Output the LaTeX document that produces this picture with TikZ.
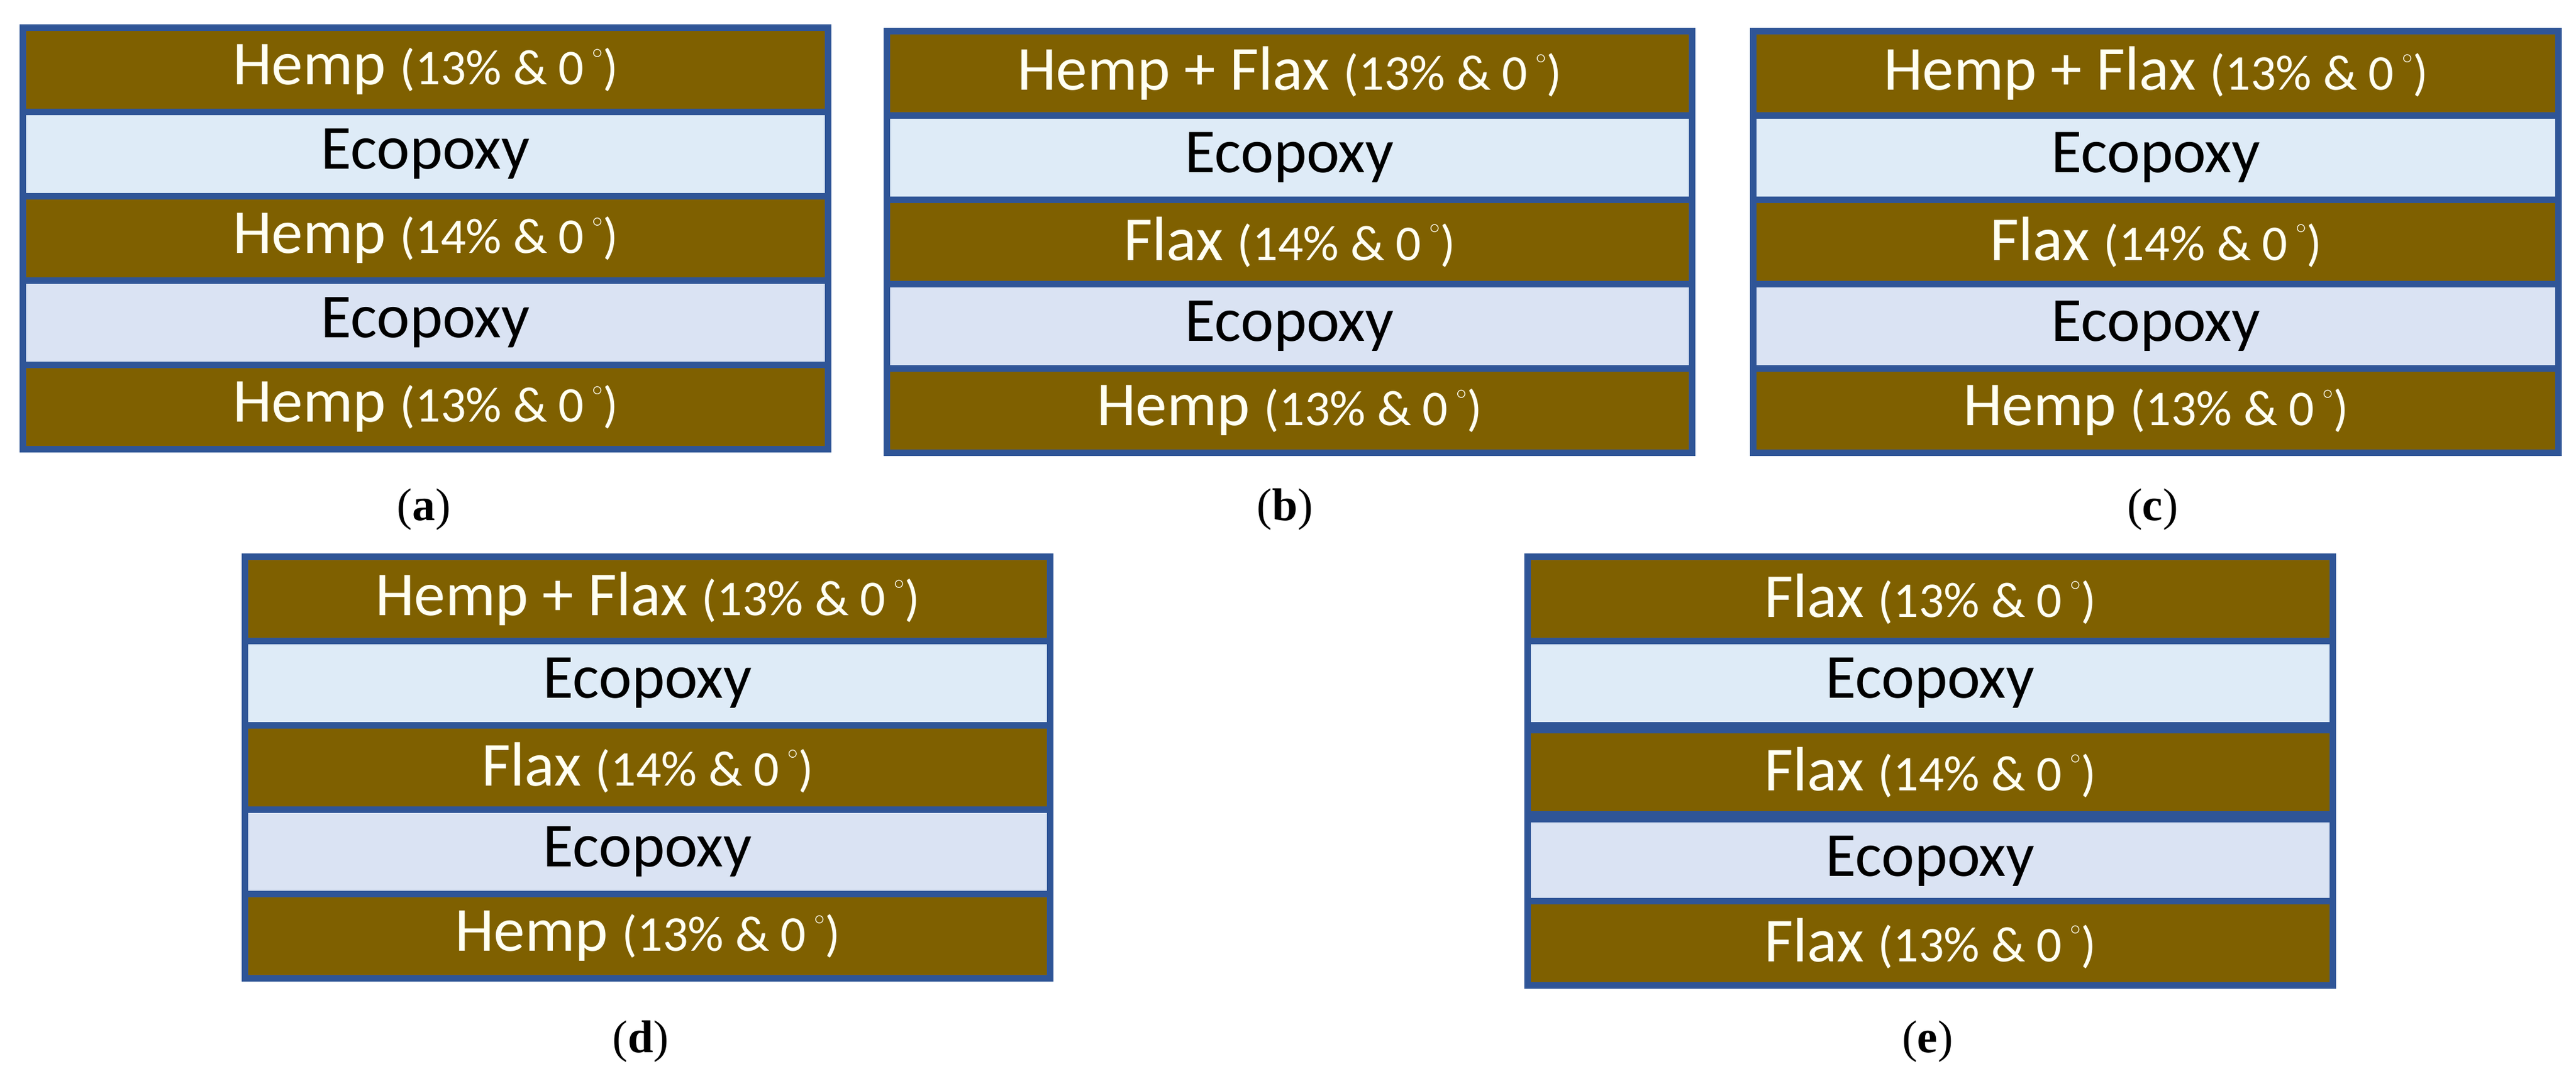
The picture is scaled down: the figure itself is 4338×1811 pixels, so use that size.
\documentclass[tikz,border=0pt]{standalone}
\usepackage{fontspec}
\setmainfont{Carlito}
\newfontfamily\capfont{Liberation Serif}
\definecolor{fib}{HTML}{7F6000}
\definecolor{epoA}{HTML}{DEEBF7}
\definecolor{epoB}{HTML}{DAE3F3}
\definecolor{edge}{HTML}{2F5597}
\definecolor{ftxt}{HTML}{FFFFF2}
\newcommand{\pct}[1]{{\fontsize{24}{24}\selectfont (#1\% \& 0\,\raisebox{1.1ex}{\fontsize{10}{10}\selectfont$\circ$})}}
\begin{document}
\begin{tikzpicture}[x=0.1mm,y=-0.1mm,
  layer/.style={draw=edge,line width=1.1mm,minimum width=135.6mm,minimum height=14.2mm,inner sep=0pt,anchor=north west},
  fiber/.style={layer,fill=fib,text=ftxt,font=\fontsize{30}{30}\selectfont},
  epoxy1/.style={layer,fill=epoA,text=black,font=\fontsize{30}{30}\selectfont},
  epoxy2/.style={layer,fill=epoB,text=black,font=\fontsize{30}{30}\selectfont},
  sublabel/.style={font=\capfont\fontsize{22}{22}\selectfont}]
\useasboundingbox (0,0) rectangle (4338,1811);
% (a)
\node[fiber]  (a1) at (33,41)  {Hemp \pct{13}};
\node[epoxy1] (a2) at (33,183) {Ecopoxy};
\node[fiber]  (a3) at (33,325) {Hemp \pct{14}};
\node[epoxy2] (a4) at (33,467) {Ecopoxy};
\node[fiber]  (a5) at (33,609) {Hemp \pct{13}};
\node[sublabel] (la) at (714,858) {(\textbf{a})};
% (b)
\node[fiber]  (b1) at (1488,47)  {Hemp + Flax \pct{13}};
\node[epoxy1] (b2) at (1488,189) {Ecopoxy};
\node[fiber]  (b3) at (1488,331) {Flax \pct{14}};
\node[epoxy2] (b4) at (1488,473) {Ecopoxy};
\node[fiber]  (b5) at (1488,615) {Hemp \pct{13}};
\node[sublabel] (lb) at (2164,858) {(\textbf{b})};
% (c)
\node[fiber]  (c1) at (2947,47)  {Hemp + Flax \pct{13}};
\node[epoxy1] (c2) at (2947,189) {Ecopoxy};
\node[fiber]  (c3) at (2947,331) {Flax \pct{14}};
\node[epoxy2] (c4) at (2947,473) {Ecopoxy};
\node[fiber]  (c5) at (2947,615) {Hemp \pct{13}};
\node[sublabel] (lc) at (3625,858) {(\textbf{c})};
% (d)
\node[fiber]  (d1) at (407,932)  {Hemp + Flax \pct{13}};
\node[epoxy1] (d2) at (407,1074) {Ecopoxy};
\node[fiber]  (d3) at (407,1216) {Flax \pct{14}};
\node[epoxy2] (d4) at (407,1358) {Ecopoxy};
\node[fiber]  (d5) at (407,1500) {Hemp \pct{13}};
\node[sublabel] (ld) at (1079,1754) {(\textbf{d})};
% (e)
\node[fiber]  (e1) at (2567,932)  {Flax \pct{13}};
\node[epoxy1] (e2) at (2567,1074) {Ecopoxy};
\node[fiber]  (e3) at (2567,1224) {Flax \pct{14}};
\node[epoxy2] (e4) at (2567,1374) {Ecopoxy};
\node[fiber]  (e5) at (2567,1512) {Flax \pct{13}};
\node[sublabel] (le) at (3246,1754) {(\textbf{e})};
\end{tikzpicture}
\end{document}
